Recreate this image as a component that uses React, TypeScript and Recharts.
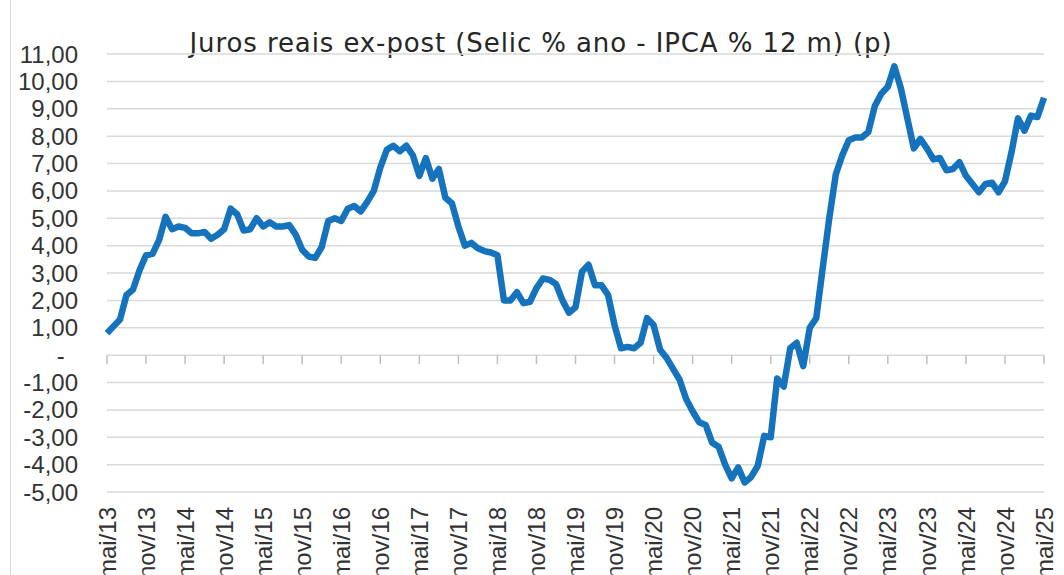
import { LineChart, Line, XAxis, YAxis, CartesianGrid, ReferenceLine } from 'recharts';

// juros reais ex-post, mensal, mai/13 a mai/25 (% a.a.)
const juroReal = [
  0.8, 1.05, 1.3, 2.2, 2.4, 3.1, 3.65, 3.7, 4.2, 5.05, 4.6, 4.7,
  4.65, 4.45, 4.45, 4.5, 4.25, 4.4, 4.6, 5.35, 5.15, 4.55, 4.6, 5.0,
  4.7, 4.85, 4.7, 4.7, 4.75, 4.4, 3.85, 3.6, 3.55, 3.95, 4.9, 5.0,
  4.9, 5.35, 5.45, 5.25, 5.6, 6.0, 6.85, 7.5, 7.65, 7.45, 7.65, 7.3,
  6.55, 7.2, 6.45, 6.8, 5.75, 5.55, 4.7, 4.0, 4.1, 3.9, 3.8, 3.75,
  3.65, 2.0, 2.0, 2.3, 1.9, 1.95, 2.45, 2.8, 2.75, 2.6, 2.0, 1.55,
  1.75, 3.05, 3.3, 2.55, 2.55, 2.2, 1.1, 0.25, 0.3, 0.25, 0.45, 1.35,
  1.1, 0.2, -0.1, -0.5, -0.9, -1.6, -2.05, -2.45, -2.55, -3.2, -3.35, -4.0,
  -4.5, -4.1, -4.65, -4.45, -4.05, -2.95, -3.0, -0.85, -1.15, 0.25, 0.45, -0.4,
  1.0, 1.35, 3.2, 5.0, 6.6, 7.3, 7.85, 7.95, 7.95, 8.15, 9.1, 9.55,
  9.8, 10.55, 9.75, 8.65, 7.55, 7.9, 7.55, 7.15, 7.2, 6.75, 6.8, 7.05,
  6.55, 6.25, 5.95, 6.25, 6.3, 5.95, 6.35, 7.4, 8.65, 8.2, 8.75, 8.7,
  9.4,
];

const xTickLabels = [
  'mai/13', 'nov/13', 'mai/14', 'nov/14', 'mai/15', 'nov/15', 'mai/16', 'nov/16',
  'mai/17', 'nov/17', 'mai/18', 'nov/18', 'mai/19', 'nov/19', 'mai/20', 'nov/20',
  'mai/21', 'nov/21', 'mai/22', 'nov/22', 'mai/23', 'nov/23', 'mai/24', 'nov/24',
  'mai/25',
];
const xTicks = xTickLabels.map((_, k) => k * 6);
const yTicks = [-5, -4, -3, -2, -1, 0, 1, 2, 3, 4, 5, 6, 7, 8, 9, 10, 11];

const data = juroReal.map((v, i) => ({ i, v }));

const fmtY = (v: number) => (v === 0 ? '-\u00a0\u00a0' : v.toFixed(2).replace('.', ','));

const XTick = ({ x, y, payload }: any) => (
  <text
    x={x}
    y={y}
    dy="0.36em"
    textAnchor="end"
    transform={`rotate(-90, ${x}, ${y})`}
    fill="#333"
    fontSize={24}
    fontFamily="'Liberation Sans', Arial, sans-serif"
  >
    {xTickLabels[payload.value / 6]}
  </text>
);

export default function App() {
  return (
    <div style={{ position: 'absolute', left: 0, top: 0, width: 1064, height: 575, background: '#fff', overflow: 'hidden' }}>
      <div style={{ position: 'absolute', left: 10, top: 0, width: 1, height: 575, background: '#d9d9d9' }} />
      <div
        style={{
          position: 'absolute', left: 0, top: 31, width: 1082, textAlign: 'center',
          fontFamily: "'DejaVu Sans', Verdana, sans-serif", fontSize: 26, lineHeight: '24px', color: '#262626',
          letterSpacing: 0.9, whiteSpace: 'nowrap',
        }}
      >
        Juros reais ex-post (Selic % ano - IPCA % 12 m) (p)
      </div>
      <LineChart width={1064} height={575} data={data} margin={{ top: 54, right: 20, bottom: 0, left: 0 }}>
        <CartesianGrid vertical={false} stroke="#d9d9d9" strokeWidth={1.5} />
        <XAxis
          dataKey="i"
          type="number"
          domain={[0, 144]}
          ticks={xTicks}
          interval={0}
          height={83}
          axisLine={false}
          tickLine={false}
          tickMargin={9}
          tick={<XTick />}
        />
        <YAxis
          type="number"
          domain={[-5, 11]}
          ticks={yTicks}
          interval={0}
          width={107}
          axisLine={false}
          tickLine={false}
          tickMargin={23}
          tickFormatter={fmtY}
          tick={{ fill: '#333', fontSize: 24, fontFamily: "'Liberation Sans', Arial, sans-serif" }}
        />
        {xTicks.map((t) => (
          <ReferenceLine
            key={t}
            segment={[{ x: t, y: 0 }, { x: t, y: -0.33 }]}
            stroke="#bfbfbf"
            strokeWidth={1.5}
            ifOverflow="visible"
          />
        ))}
        <Line
          type="linear"
          dataKey="v"
          stroke="#1572bd"
          strokeWidth={6.5}
          strokeLinejoin="round"
          dot={false}
          isAnimationActive={false}
        />
      </LineChart>
    </div>
  );
}
